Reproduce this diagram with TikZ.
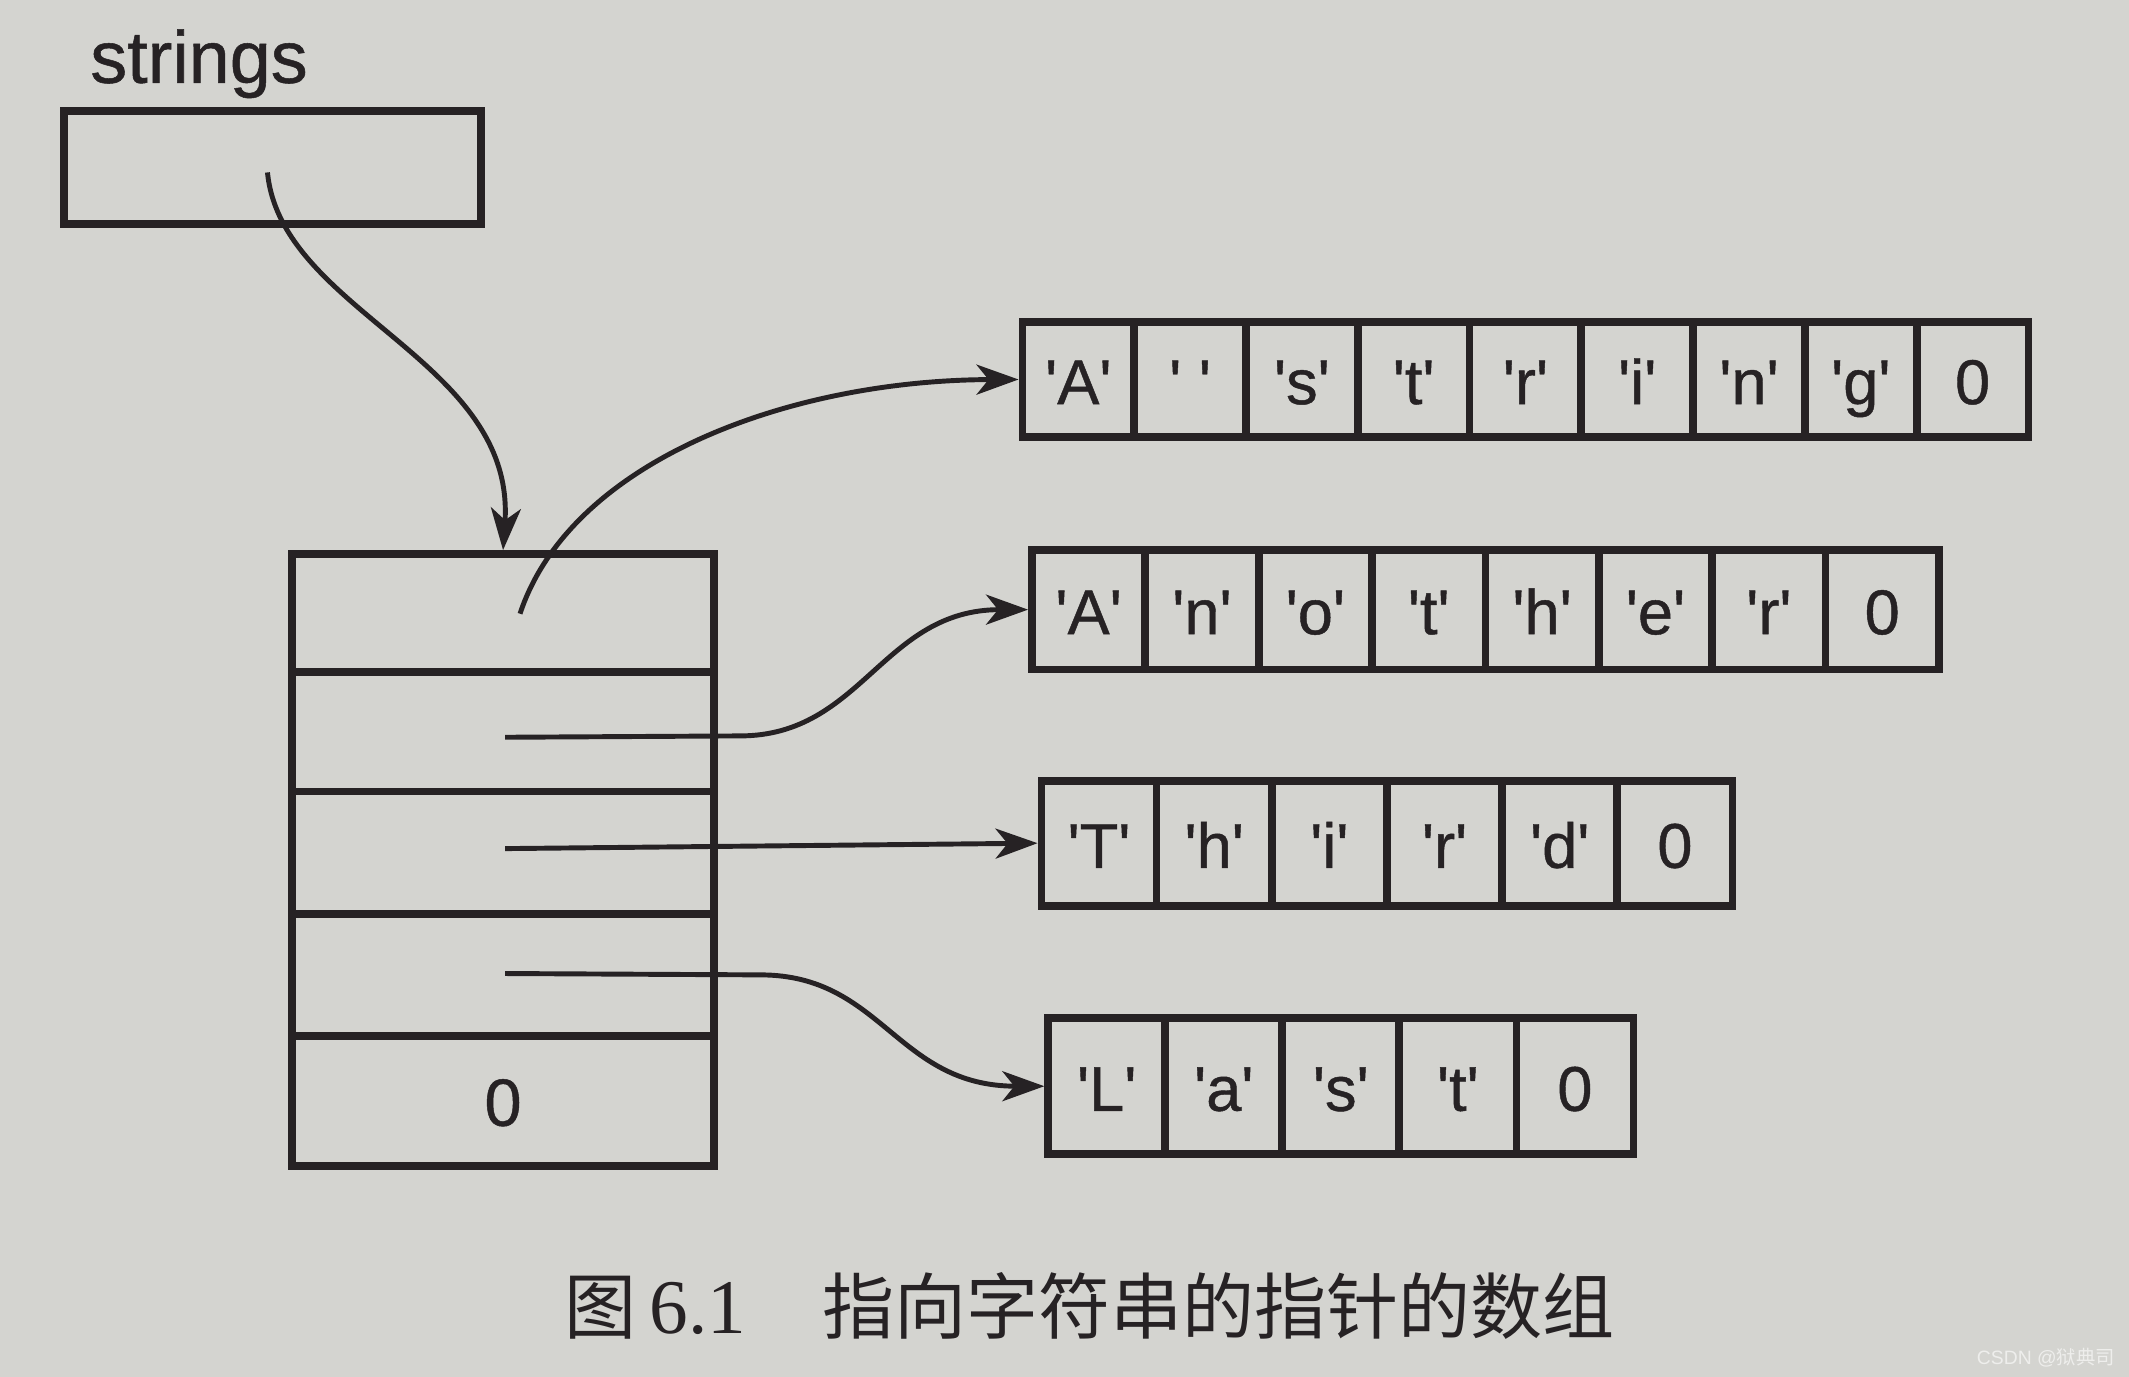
\documentclass[tikz,border=0pt]{standalone}
\usepackage{fontspec}
\setmainfont{Liberation Sans}
\newfontfamily\inkfont{Liberation Sans}[FakeBold=0.7]
\newfontfamily\cjk{Noto Sans CJK SC}
\newfontfamily\serifnum{Liberation Serif}
\usetikzlibrary{arrows.meta}
\definecolor{paper}{RGB}{212,212,208}
\definecolor{ink}{RGB}{38,34,36}
\definecolor{wmark}{RGB}{238,238,236}
\newcommand\upx{0.13578mm}
\newcommand\q[1]{\textquotesingle#1\textquotesingle}
\newcommand\strrow[6]{%
  \foreach \t [count=\i] in {#6} {%
    \node[cellbox, minimum width={#5*\upx}, minimum height={(#4-#3)*\upx}]
      (#1c\i) at ({#2+(\i-0.5)*#5},{(#3+#4)/2}) {\t};
  }%
}
\begin{document}
\begin{tikzpicture}[x=0.13578mm,y=-0.13578mm,
  cellbox/.style={draw=ink, line width=2.2pt, inner sep=0pt, text=ink,
    font=\inkfont\fontsize{18}{20}\selectfont, text height=16pt, text depth=2pt},
  conn/.style={draw=ink, line width=1.4pt},
  arr/.style={conn, -{Stealth[length=4.2mm,width=3mm,inset=1.2mm]}}]
\fill[paper] (0,0) rectangle (1568,1014);
\useasboundingbox (0,0) rectangle (1568,1014);

% label and pointer variable
\node[anchor=base west, inner sep=0pt, text=ink, font=\inkfont\fontsize{21}{24}\selectfont] (lbl) at (66,61) {strings};
\node[cellbox, minimum width={307*\upx}, minimum height={83*\upx}] (sbox) at (200.5,123.5) {};

% array of pointers
\node[cellbox, minimum width={311*\upx}, minimum height={87*\upx}] (a1) at (370.5,451.5) {};
\node[cellbox, minimum width={311*\upx}, minimum height={88*\upx}] (a2) at (370.5,539) {};
\node[cellbox, minimum width={311*\upx}, minimum height={90*\upx}] (a3) at (370.5,628) {};
\node[cellbox, minimum width={311*\upx}, minimum height={90*\upx}] (a4) at (370.5,718) {};
\node[cellbox, minimum width={311*\upx}, minimum height={96*\upx}, font=\inkfont\fontsize{19}{21}\selectfont] (a5) at (370.5,811) {0};

% strings
\strrow{r1}{753}{237}{322}{82.33}{{\q{A}},{\q{\ }},{\q{s}},{\q{t}},{\q{r}},{\q{i}},{\q{n}},{\q{g}},0}
\strrow{r2}{760}{405}{493}{83.5}{{\q{A}},{\q{n}},{\q{o}},{\q{t}},{\q{h}},{\q{e}},{\q{r}},0}
\strrow{r3}{767}{575}{667}{84.83}{{\q{T}},{\q{h}},{\q{i}},{\q{r}},{\q{d}},0}
\strrow{r4}{772}{750}{850}{86.2}{{\q{L}},{\q{a}},{\q{s}},{\q{t}},0}

% connectors
\coordinate (s0) at (197,127);
\coordinate (p1) at (383,452);
\coordinate (p2) at (372,543);
\coordinate (p3) at (372,625);
\coordinate (p4) at (372,717);
\coordinate (k2) at (545,542);
\coordinate (k4) at (560,718);

\draw[arr] (s0) .. controls (207,230) and (380,265) .. (a1.north);
\draw[arr] (p1) .. controls (420,340) and (580,280) .. (r1c1.west);
\draw[arr] (p2) -- (k2) .. controls (635,542) and (650,449) .. (r2c1.west);
\draw[arr] (p3) -- (r3c1.west);
\draw[arr] (p4) -- (k4) .. controls (650,718) and (660,800) .. (r4c1.west);

% caption
\node[anchor=base west, inner sep=0pt, text=ink, font=\fontsize{20.5}{24}\selectfont\cjk] (cap1) at (415,982) {图};
\node[anchor=base west, inner sep=0pt, text=ink, font=\fontsize{22}{26}\selectfont\serifnum] (cap2) at (478,982) {6.1};
\node[anchor=base west, inner sep=0pt, text=ink, font=\fontsize{20.5}{24}\selectfont\cjk] (cap3) at (605,982) {指向字符串的指针的数组};

% watermark
\node[anchor=base east, inner sep=0pt, text=wmark, font=\fontsize{5.5}{6}\selectfont] (wm) at (1558,1005) {CSDN @{\cjk 狱典司}};
\end{tikzpicture}
\end{document}
